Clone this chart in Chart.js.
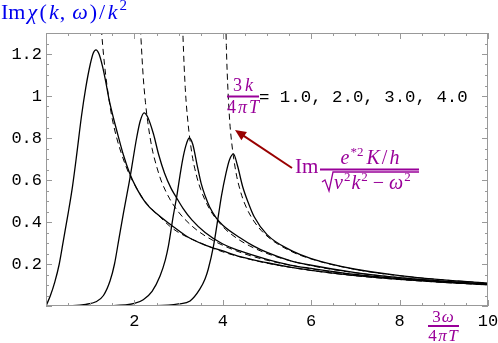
<!DOCTYPE html>
<html>
<head>
<meta charset="utf-8">
<script src="https://cdn.jsdelivr.net/npm/chart.js@4.4.0/dist/chart.umd.min.js"></script>
<style>
  html, body { margin: 0; padding: 0; background: #fff; }
  canvas { display: block; }
</style>
</head>
<body>
<canvas id="chart" width="498" height="343"></canvas>
<script>
// [3w/4piT, Im chi / k^2], one list per 3k/4piT value
const solidK1 = [[0,0],[0.1,0.05],[0.2,0.115],[0.3,0.2],[0.4,0.32],[0.5,0.44],[0.6,0.57],[0.7,0.73],[0.8,0.9],[0.9,1.04],[1.0,1.15],[1.07,1.205],[1.13,1.22],[1.2,1.2],[1.28,1.14],[1.35,1.07],[1.43,0.98],[1.52,0.9],[1.62,0.82],[1.75,0.72],[1.89,0.633],[2.05,0.56],[2.26,0.49],[2.5,0.44],[2.83,0.386],[3.2,0.33],[3.6,0.29],[4.0,0.262],[4.39,0.235],[5,0.206],[5.52,0.185],[6,0.17],[7,0.145],[8,0.127],[9,0.113],[10,0.101]];
const solidK2 = [[0,0],[0.6,0.002],[0.9,0.008],[1.13,0.02],[1.3,0.05],[1.45,0.12],[1.55,0.2],[1.65,0.32],[1.75,0.44],[1.83,0.53],[1.9,0.61],[1.97,0.7],[2.05,0.8],[2.13,0.88],[2.22,0.92],[2.3,0.9],[2.43,0.82],[2.55,0.72],[2.68,0.633],[2.83,0.56],[2.93,0.524],[3.1,0.465],[3.3,0.41],[3.6,0.35],[4.0,0.295],[4.39,0.262],[5,0.222],[5.52,0.195],[6,0.179],[7,0.15],[8,0.13],[9,0.115],[10,0.103]];
const solidK3 = [[0,0],[1.5,0.002],[2.0,0.012],[2.2,0.03],[2.4,0.07],[2.58,0.143],[2.7,0.22],[2.77,0.286],[2.88,0.43],[2.96,0.524],[3.03,0.62],[3.09,0.695],[3.16,0.76],[3.24,0.8],[3.32,0.77],[3.42,0.67],[3.51,0.584],[3.6,0.525],[3.7,0.473],[3.85,0.42],[4.0,0.385],[4.39,0.325],[4.7,0.285],[5,0.255],[5.52,0.216],[6,0.194],[7,0.159],[8,0.135],[9,0.118],[10,0.105]];
const solidK4 = [[0,0],[2.5,0.002],[3.0,0.01],[3.26,0.024],[3.48,0.08],[3.6,0.13],[3.67,0.175],[3.79,0.286],[3.9,0.43],[3.97,0.524],[4.07,0.63],[4.15,0.695],[4.24,0.724],[4.33,0.67],[4.45,0.568],[4.58,0.49],[4.71,0.425],[5,0.34],[5.52,0.267],[6,0.226],[7,0.175],[8,0.145],[9,0.124],[10,0.109]];

// dashed asymptotic curves Im e*2K/h / sqrt(v2k2 - w2)
const dashK1 = [[1.2,1.51],[1.23,1.4],[1.26,1.3],[1.3,1.2],[1.35,1.1],[1.4,1.02],[1.45,0.95],[1.5,0.89],[1.6,0.8],[1.7,0.73],[1.8,0.67],[1.9,0.62],[2.0,0.58],[2.2,0.51],[2.4,0.46],[2.6,0.42],[2.8,0.38],[3.0,0.35],[3.5,0.3],[4.0,0.258],[4.5,0.228],[5,0.204],[6,0.169],[7,0.144],[8,0.126],[9,0.112],[10,0.1]];
const dashK2 = [[2.1,1.56],[2.13,1.36],[2.15,1.27],[2.2,1.09],[2.25,0.97],[2.3,0.88],[2.4,0.75],[2.5,0.667],[2.6,0.6],[2.8,0.51],[3.0,0.447],[3.3,0.381],[3.6,0.334],[4.0,0.289],[4.5,0.248],[5,0.218],[6,0.177],[7,0.149],[8,0.129],[9,0.114],[10,0.102]];
const dashK3 = [[3.08,1.43],[3.1,1.28],[3.15,1.04],[3.2,0.9],[3.3,0.727],[3.4,0.625],[3.5,0.555],[3.7,0.462],[4.0,0.378],[4.3,0.325],[4.6,0.287],[5,0.25],[5.5,0.217],[6,0.192],[7,0.158],[8,0.135],[9,0.118],[10,0.105]];
const dashK4 = [[4.06,1.44],[4.08,1.24],[4.1,1.11],[4.15,0.9],[4.2,0.78],[4.3,0.634],[4.4,0.546],[4.5,0.485],[4.7,0.405],[5.0,0.333],[5.5,0.265],[6,0.224],[7,0.174],[8,0.144],[9,0.124],[10,0.109]];

const xTicks = [0, 2, 4, 6, 8, 10];
const xTickLabels = ['', '2', '4', '6', '8', '10'];
const yTicks = [0, 0.2, 0.4, 0.6, 0.8, 1, 1.2];
const yTickLabels = ['', '0.2', '0.4', '0.6', '0.8', '1', '1.2'];

const PURPLE = '#990099';
const SERIF = '"Liberation Serif", "Times New Roman", serif';
const MONO = '"Liberation Mono", "Courier New", monospace';

function pts(list) {
  return list.map(p => ({ x: p[0], y: p[1] }));
}

function solid(list) {
  return { data: pts(list), borderColor: '#000', borderWidth: 1.3, pointRadius: 0,
           showLine: true, cubicInterpolationMode: 'monotone' };
}
function dashed(list) {
  return { data: pts(list), borderColor: '#000', borderWidth: 1, borderDash: [6, 4],
           pointRadius: 0, showLine: true, cubicInterpolationMode: 'monotone' };
}

// draw a row of text pieces with different fonts
function drawRuns(ctx, x, y, runs) {
  for (const r of runs) {
    ctx.font = r.font;
    ctx.fillText(r.t, x, y + (r.dy || 0));
    x += ctx.measureText(r.t).width + (r.gap || 0);
  }
  return x;
}
function runsWidth(ctx, runs) {
  let w = 0;
  for (const r of runs) {
    ctx.font = r.font;
    w += ctx.measureText(r.t).width + (r.gap || 0);
  }
  return w;
}
function centered(ctx, cx, y, runs) {
  drawRuns(ctx, cx - runsWidth(ctx, runs) / 2, y, runs);
}

const decorations = {
  id: 'decorations',
  afterDatasetsDraw(chart) {
    const { ctx, chartArea: a, scales: { x, y } } = chart;
    ctx.save();

    // frame with inward ticks on all four sides
    ctx.strokeStyle = '#999';
    ctx.lineWidth = 1;
    ctx.strokeRect(a.left + 0.5, a.top + 0.5, a.right - a.left - 1, a.bottom - a.top - 1);
    ctx.beginPath();
    for (let i = 0; i <= 20; i++) {
      const v = i * 0.5;
      const px = Math.round(x.getPixelForValue(v)) + 0.5;
      const len = i % 4 === 0 ? 6 : 3;
      ctx.moveTo(px, a.bottom); ctx.lineTo(px, a.bottom - len);
      ctx.moveTo(px, a.top); ctx.lineTo(px, a.top + len);
    }
    for (let i = 0; i <= 26; i++) {
      const v = i * 0.05;
      const py = Math.round(y.getPixelForValue(v)) + 0.5;
      const len = i % 4 === 0 ? 6 : 3;
      ctx.moveTo(a.left, py); ctx.lineTo(a.left + len, py);
      ctx.moveTo(a.right, py); ctx.lineTo(a.right - len, py);
    }
    ctx.stroke();

    ctx.textAlign = 'left';
    ctx.textBaseline = 'alphabetic';

    // y axis title
    ctx.fillStyle = '#0000ee';
    const R22 = '22px ' + SERIF, I22 = 'italic 22px ' + SERIF, S15 = '15px ' + SERIF;
    drawRuns(ctx, 1, 19, [
      { t: 'Im', font: R22, gap: 2 }, { t: 'χ', font: I22, gap: 2.5 }, { t: '(', font: R22, gap: 2 },
      { t: 'k', font: I22, gap: 1 }, { t: ',', font: R22, gap: 7 }, { t: 'ω', font: I22, gap: 2 },
      { t: ')', font: R22, gap: 2 }, { t: '/', font: R22, gap: 2.5 }, { t: 'k', font: I22, gap: 2 },
      { t: '2', font: S15, dy: -9 }
    ]);

    const R18 = '18px ' + SERIF, I18 = 'italic 18px ' + SERIF;

    // 3k / 4piT = 1.0, 2.0, 3.0, 4.0
    ctx.fillStyle = PURPLE;
    centered(ctx, 243, 91, [{ t: '3', font: R18, gap: 3 }, { t: 'k', font: I18 }]);
    ctx.fillRect(227, 95.5, 32, 2);
    centered(ctx, 243, 113, [{ t: '4', font: R18, gap: 2 }, { t: 'π', font: I18, gap: 2 }, { t: 'T', font: I18 }]);
    ctx.fillStyle = '#000';
    ctx.font = '17.4px ' + MONO;
    ctx.fillText('= 1.0, 2.0, 3.0, 4.0', 259, 101.5);

    // Im e*2 K/h / sqrt(v2k2 - w2)
    ctx.fillStyle = PURPLE;
    const R20 = '20px ' + SERIF, I20 = 'italic 20px ' + SERIF, S13 = '13px ' + SERIF;
    drawRuns(ctx, 295, 173, [{ t: 'Im', font: '21px ' + SERIF }]);
    centered(ctx, 370, 164, [
      { t: 'e', font: I20, gap: 1 }, { t: '*2', font: S13, dy: -8, gap: 3 },
      { t: 'K', font: I20, gap: 2 }, { t: '/', font: R20, gap: 2 }, { t: 'h', font: I20 }
    ]);
    ctx.fillRect(320, 168.5, 99, 2);
    drawRuns(ctx, 334, 189, [
      { t: 'v', font: I20, gap: 1 }, { t: '2', font: S13, dy: -8, gap: 1 }, { t: 'k', font: I20, gap: 1 },
      { t: '2', font: S13, dy: -8, gap: 5 }, { t: '−', font: R20, gap: 5 },
      { t: 'ω', font: I20, gap: 1 }, { t: '2', font: S13, dy: -8 }
    ]);
    ctx.strokeStyle = PURPLE;
    ctx.lineWidth = 1.3;
    ctx.beginPath();
    ctx.moveTo(322, 182); ctx.lineTo(325, 180); ctx.lineTo(329, 191);
    ctx.lineTo(333, 172); ctx.lineTo(419, 172);
    ctx.stroke();

    // arrow pointing at the dashed curves
    ctx.strokeStyle = '#990000';
    ctx.fillStyle = '#990000';
    ctx.lineWidth = 2;
    const x0 = 292, y0 = 168, x1 = 235, y1 = 130;
    const ang = Math.atan2(y1 - y0, x1 - x0);
    ctx.beginPath();
    ctx.moveTo(x0, y0);
    ctx.lineTo(x1 - 6 * Math.cos(ang), y1 - 6 * Math.sin(ang));
    ctx.stroke();
    ctx.beginPath();
    ctx.moveTo(x1, y1);
    ctx.lineTo(x1 - 11 * Math.cos(ang) + 5 * Math.sin(ang), y1 - 11 * Math.sin(ang) - 5 * Math.cos(ang));
    ctx.lineTo(x1 - 11 * Math.cos(ang) - 5 * Math.sin(ang), y1 - 11 * Math.sin(ang) + 5 * Math.cos(ang));
    ctx.closePath();
    ctx.fill();

    // x axis title 3w / 4piT
    ctx.fillStyle = PURPLE;
    const R17 = '17px ' + SERIF, I17 = 'italic 17px ' + SERIF;
    centered(ctx, 443, 322, [{ t: '3', font: R17, gap: 1 }, { t: 'ω', font: I17 }]);
    ctx.fillRect(428, 325, 31, 2);
    centered(ctx, 443, 341, [{ t: '4', font: R17, gap: 1.5 }, { t: 'π', font: I17, gap: 1.5 }, { t: 'T', font: I17 }]);

    ctx.restore();
  }
};

new Chart(document.getElementById('chart'), {
  type: 'scatter',
  data: {
    datasets: [
      dashed(dashK1), dashed(dashK2), dashed(dashK3), dashed(dashK4),
      solid(solidK1), solid(solidK2), solid(solidK3), solid(solidK4)
    ]
  },
  options: {
    responsive: false,
    animation: false,
    layout: { padding: { top: 33, right: 10, left: 0, bottom: 0 } },
    plugins: { legend: { display: false }, tooltip: { enabled: false } },
    scales: {
      x: {
        type: 'linear', min: 0, max: 10,
        grid: { display: false, drawTicks: false },
        border: { display: false },
        afterBuildTicks: s => { s.ticks = xTicks.map(v => ({ value: v })); },
        afterFit: s => { s.height = 37; s.paddingLeft = 0; s.paddingRight = 0; },
        ticks: {
          padding: 5, color: '#000', maxRotation: 0, autoSkip: false,
          font: { family: MONO, size: 17 },
          callback: (v, i) => xTickLabels[i]
        }
      },
      y: {
        type: 'linear', min: 0, max: 1.3,
        grid: { display: false, drawTicks: false },
        border: { display: false },
        afterBuildTicks: s => { s.ticks = yTicks.map(v => ({ value: v })); },
        afterFit: s => { s.width = 46; s.paddingTop = 0; s.paddingBottom = 0; },
        ticks: {
          padding: 4, color: '#000', autoSkip: false,
          font: { family: MONO, size: 17 },
          callback: (v, i) => yTickLabels[i]
        }
      }
    }
  },
  plugins: [decorations]
});
</script>
</body>
</html>
